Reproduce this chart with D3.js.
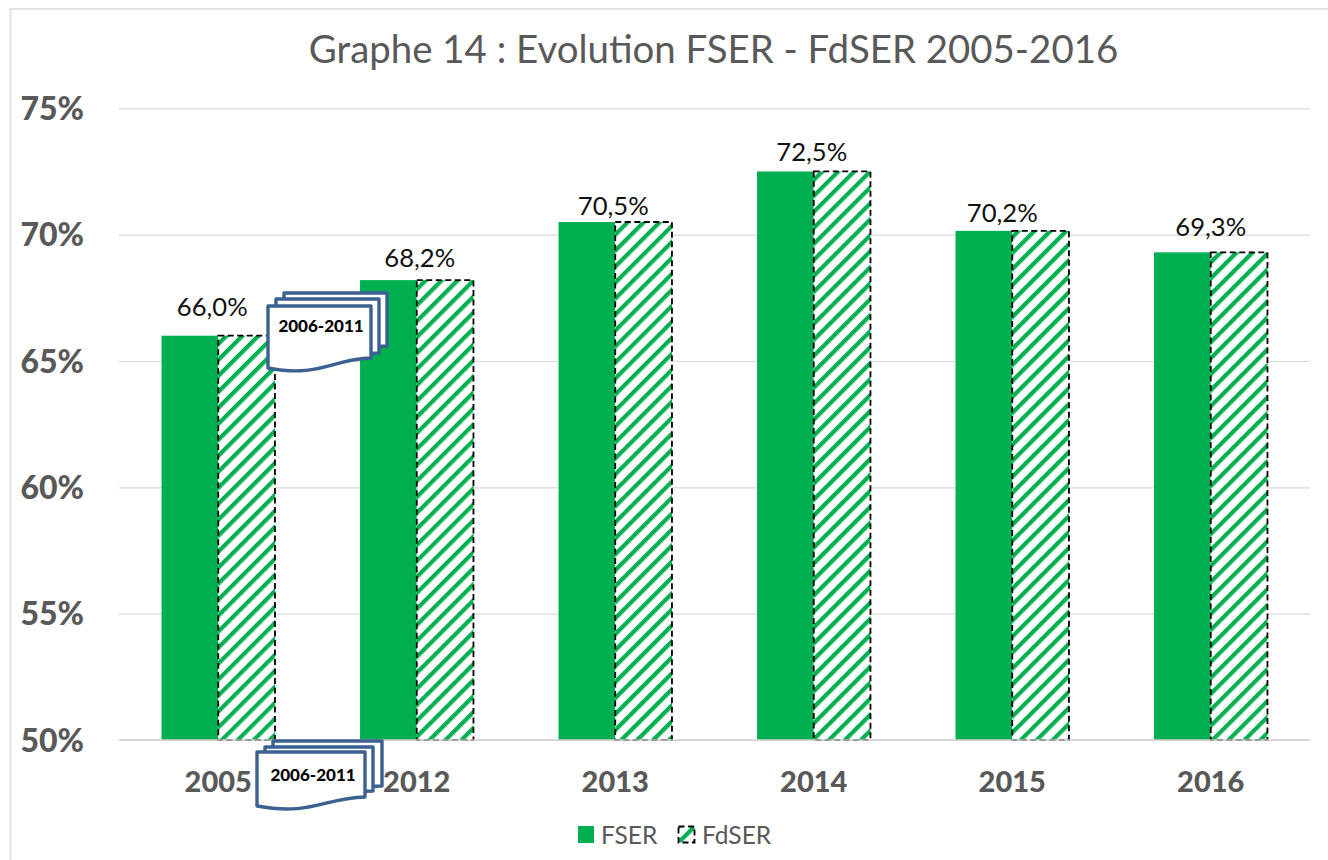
<!DOCTYPE html>
<html><head><meta charset="utf-8">
<script src="https://cdn.jsdelivr.net/npm/d3@7"></script>
<style>html,body{margin:0;padding:0;background:#fff;overflow:hidden}svg{display:block}text{font-family:Lato,"Open Sans",sans-serif}</style>
</head><body><div id="chart"></div>
<script>
const titleText = "Graphe 14 : Evolution FSER - FdSER 2005-2016";
const years = ["2005","2012","2013","2014","2015","2016"];
const fser = [66.0,68.2,70.5,72.5,70.15,69.3];
const fdser = [66.0,68.2,70.5,72.5,70.15,69.3];
const valueLabels = ["66,0%","68,2%","70,5%","72,5%","70,2%","69,3%"];
const yTicks = [50,55,60,65,70,75];
const seriesNames = ["FSER","FdSER"];
const gapLabel = "2006-2011";
const GREEN = "#00b050", GREY = "#595959", BLUE = "#3b6091";
const labelLift = [20,13,7.5,10,9,16];
const labelShift = [-6,3,-2,-2,-10,0];

const svg = d3.select("#chart").append("svg").attr("width",1328).attr("height",860);
const defs = svg.append("defs");
const pat = defs.append("pattern").attr("id","hatch").attr("patternUnits","userSpaceOnUse")
  .attr("width",11.3).attr("height",11.3).attr("patternTransform","rotate(45)");
pat.append("rect").attr("width",11.3).attr("height",11.3).attr("fill","#fff");
pat.append("rect").attr("x",0).attr("width",4.2).attr("height",11.3).attr("fill",GREEN);

svg.append("path").attr("d","M10.5,860V9H1328").attr("fill","none").attr("stroke","#e2e2e2").attr("stroke-width",2);

const x = d3.scaleBand().domain(years).range([119,1310]).paddingInner(0.4286).paddingOuter(0.2143);
const x1 = d3.scaleBand().domain(seriesNames).range([0,x.bandwidth()]);
const y = d3.scaleLinear().domain([50,75]).range([740,108.3]);

svg.append("text").attr("x",713.5).attr("y",63).attr("text-anchor","middle")
  .attr("font-size",38.4).attr("fill",GREY).text(titleText);

const yAxis = d3.axisLeft(y).tickValues(yTicks).tickSize(-1191).tickPadding(0).tickFormat(d=>d+"%");
const gy = svg.append("g").attr("transform","translate(119,0)").call(yAxis);
gy.select(".domain").remove();
gy.selectAll(".tick line").attr("stroke","#d9d9d9").attr("stroke-width",1.2);
gy.selectAll(".tick text").attr("x",-35).attr("dy","0.35em").attr("font-size",32).attr("font-weight",900).attr("fill",GREY).style("font-family","Lato");

svg.selectAll("rect.fser").data(years).join("rect").attr("class","fser")
  .attr("x",d=>x(d)+x1("FSER")).attr("width",x1.bandwidth())
  .attr("y",(d,i)=>y(fser[i])).attr("height",(d,i)=>y(50)-y(fser[i])).attr("fill",GREEN);
svg.selectAll("rect.fdser").data(years).join("rect").attr("class","fdser")
  .attr("x",d=>x(d)+x1("FdSER")).attr("width",x1.bandwidth())
  .attr("y",(d,i)=>y(fdser[i])).attr("height",(d,i)=>y(50)-y(fdser[i]))
  .attr("fill","url(#hatch)").attr("stroke","#000").attr("stroke-width",1.8).attr("stroke-dasharray","6 3.5");

svg.append("line").attr("x1",119).attr("x2",1310).attr("y1",y(50)).attr("y2",y(50)).attr("stroke","#d0d0d0").attr("stroke-width",1.5);

svg.selectAll("text.val").data(years).join("text").attr("class","val")
  .attr("x",(d,i)=>x(d)+x.bandwidth()/2+labelShift[i]).attr("y",(d,i)=>y(fser[i])-labelLift[i])
  .attr("text-anchor","middle").attr("font-size",25.6).attr("fill","#111")
  .text((d,i)=>valueLabels[i]);

const xAxis = d3.axisBottom(x).tickSize(0).tickPadding(0);
const gx = svg.append("g").attr("transform","translate(0,740)").call(xAxis);
gx.select(".domain").remove();
gx.selectAll(".tick text").attr("y",52).attr("dy",0).attr("font-size",29).attr("font-weight",900).attr("fill",GREY).style("font-family","Lato");

// stacked "document" markers for the omitted years
function stack(sheets, label, lx, ly, fs){
  const g = svg.append("g");
  sheets.forEach(s=>{
    const [l,t,r,bR,bL] = s;
    const w = r-l;
    const p = d3.path();
    p.moveTo(l,t); p.lineTo(r,t); p.lineTo(r,bR);
    p.bezierCurveTo(l+w*0.62,bR+1, l+w*0.5,bL+10, l,bL);
    p.closePath();
    g.append("path").attr("d",p.toString()).attr("fill","#fff").attr("stroke",BLUE).attr("stroke-width",3.4).attr("stroke-linejoin","round");
  });
  g.append("text").attr("x",lx).attr("y",ly).attr("text-anchor","middle").attr("font-size",fs).attr("font-weight",900).attr("fill","#000").text(label);
}
stack([[284,293,387,346,346],[276,299,379,353,353],[268,306,371,358,368]],gapLabel,321,332,17);
stack([[273,741,382,786,786],[265,747,373,791,791],[257,752,365,797,806]],gapLabel,313,781,17);

// legend
svg.append("rect").attr("x",578).attr("y",826).attr("width",16).attr("height",17).attr("fill",GREEN);
svg.append("text").attr("x",601).attr("y",844).attr("font-size",24.5).attr("fill",GREY).text(seriesNames[0]);
svg.append("rect").attr("x",678.5).attr("y",826.5).attr("width",16).attr("height",16).attr("fill","url(#hatch)").attr("stroke","#000").attr("stroke-width",1.8).attr("stroke-dasharray","6 3.5");
svg.append("text").attr("x",702).attr("y",844).attr("font-size",24.5).attr("fill",GREY).text(seriesNames[1]);
</script></body></html>
